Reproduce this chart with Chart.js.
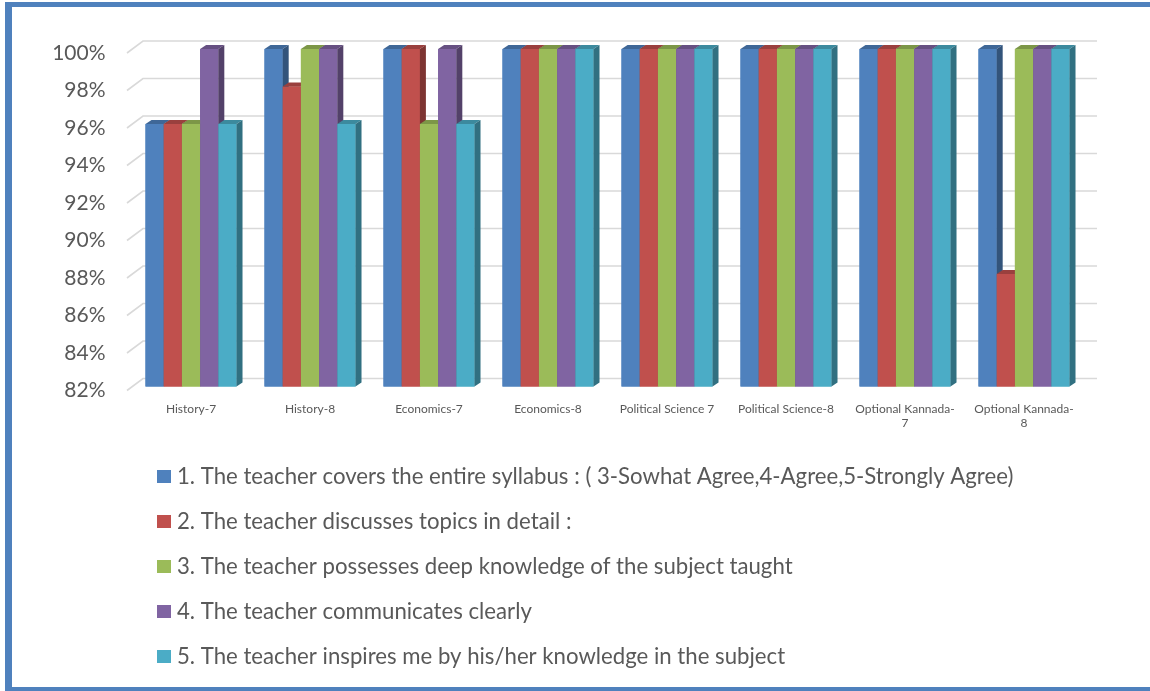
<!DOCTYPE html>
<html><head><meta charset="utf-8">
<script src="https://cdn.jsdelivr.net/npm/chart.js@4.4.0/dist/chart.umd.min.js"></script>
<style>
html,body{margin:0;padding:0;background:#fff;}
#wrap{position:relative;width:1150px;height:691px;overflow:hidden;background:#fff;}
#frame{position:absolute;left:5px;top:2px;width:1200px;height:689px;border-top:5px solid #4F81BD;border-left:7px solid #4F81BD;border-bottom:4px solid #4F81BD;box-sizing:border-box;pointer-events:none;}
canvas{position:absolute;left:0;top:0;}
</style></head>
<body>
<div id="wrap"><canvas id="c" width="1150" height="691"></canvas><div id="frame"></div></div>
<script>
const categories = ["History-7", "History-8", "Economics-7", "Economics-8", "Political Science 7", "Political Science-8", ["Optional Kannada-", "7"], ["Optional Kannada-", "8"]];
const seriesNames = [
  "1. The teacher covers the entire syllabus : ( 3-Sowhat Agree,4-Agree,5-Strongly Agree)",
  "2. The teacher discusses topics in detail :",
  "3. The teacher possesses deep knowledge of the subject taught",
  "4. The teacher communicates clearly",
  "5. The teacher inspires me by his/her knowledge in the subject"
];
const covers      = [96, 100, 100, 100, 100, 100, 100, 100];
const discusses   = [96, 98, 100, 100, 100, 100, 100, 88];
const knowledge   = [96, 100, 96, 100, 100, 100, 100, 100];
const communicates= [100, 100, 100, 100, 100, 100, 100, 100];
const inspires    = [96, 96, 96, 100, 100, 100, 100, 100];
const yMin = 82, yMax = 100, yStep = 2;

const colors = ["#4F81BD", "#C0504D", "#9BBB59", "#8064A2", "#4BACC6"];
const seriesValues = [covers, discusses, knowledge, communicates, inspires];

function shade(hex, f) {
  const n = parseInt(hex.slice(1), 16);
  const r = Math.round(((n >> 16) & 255) * f), g = Math.round(((n >> 8) & 255) * f), b = Math.round((n & 255) * f);
  return "rgb(" + r + "," + g + "," + b + ")";
}

const DX = 6, DY = 4;

const grid3d = {
  id: 'grid3d',
  beforeDatasetsDraw(chart) {
    const ctx = chart.ctx, y = chart.scales.y, a = chart.chartArea;
    ctx.save();
    ctx.strokeStyle = "#D9D9D9";
    ctx.lineWidth = 1.6;
    y.ticks.forEach(t => {
      const p = y.getPixelForValue(t.value);
      ctx.beginPath();
      ctx.moveTo(a.left - 4.5, p + 4);
      ctx.lineTo(a.left + 11.5, p - 8);
      ctx.lineTo(a.right + 13.5, p - 8);
      ctx.stroke();
    });
    ctx.restore();
  }
};

const bars3d = {
  id: 'bars3d',
  afterDatasetsDraw(chart) {
    const ctx = chart.ctx;
    const n = chart.data.labels.length;
    const bottom = chart.scales.y.getPixelForValue(chart.scales.y.min);
    ctx.save();
    for (let i = 0; i < n; i++) {
      chart.data.datasets.forEach((ds, d) => {
        const el = chart.getDatasetMeta(d).data[i];
        const p = el.getProps(['x', 'y', 'width'], true);
        const l = p.x - p.width / 2, r = p.x + p.width / 2;
        const top = p.y, base = bottom;
        const c = ds.backgroundColor;
        ctx.fillStyle = c;
        ctx.fillRect(l, top, p.width, base - top);
        ctx.fillStyle = shade(c, 0.8);
        ctx.beginPath();
        ctx.moveTo(l, top); ctx.lineTo(l + DX, top - DY); ctx.lineTo(r + DX, top - DY); ctx.lineTo(r, top);
        ctx.closePath(); ctx.fill();
        ctx.fillStyle = shade(c, 0.65);
        ctx.beginPath();
        ctx.moveTo(r, top); ctx.lineTo(r + DX, top - DY); ctx.lineTo(r + DX, base - DY); ctx.lineTo(r, base);
        ctx.closePath(); ctx.fill();
      });
    }
    ctx.restore();
  }
};

const listLegend = {
  id: 'listLegend',
  afterDraw(chart) {
    const ctx = chart.ctx;
    ctx.save();
    ctx.font = "22.2px Lato";
    ctx.textBaseline = "middle";
    ctx.textAlign = "left";
    chart.data.datasets.forEach((ds, d) => {
      const cy = 477 + d * 45;
      ctx.fillStyle = ds.backgroundColor;
      ctx.fillRect(157, cy - 7, 14, 13);
      ctx.fillStyle = "#595959";
      ctx.fillText(ds.label, 177, cy);
    });
    ctx.restore();
  }
};

new Chart(document.getElementById('c'), {
  type: 'bar',
  data: {
    labels: categories,
    datasets: seriesNames.map((name, k) => ({
      label: name,
      data: seriesValues[k],
      backgroundColor: colors[k],
      borderWidth: 0,
      barPercentage: 1,
      categoryPercentage: 0.765
    }))
  },
  options: {
    responsive: false,
    animation: false,
    devicePixelRatio: 1,
    layout: { padding: { left: 10, right: 66.5, top: 49, bottom: 244.5 } },
    plugins: { legend: { display: false }, tooltip: { enabled: false }, title: { display: false } },
    scales: {
      y: {
        min: yMin, max: yMax,
        grid: { display: false }, border: { display: false },
        ticks: { stepSize: yStep, padding: 18, labelOffset: 4, color: "#595959", font: { family: "Lato", size: 21 }, callback: v => v + "%" },
        afterFit(s) { s.width = 121.5; }
      },
      x: {
        grid: { display: false }, border: { display: false },
        ticks: { padding: 7, maxRotation: 0, autoSkip: false, color: "#595959", font: { family: "Lato", size: 12 } },
        afterFit(s) { s.height = 60; }
      }
    }
  },
  plugins: [grid3d, bars3d, listLegend]
});
</script>
</body></html>
